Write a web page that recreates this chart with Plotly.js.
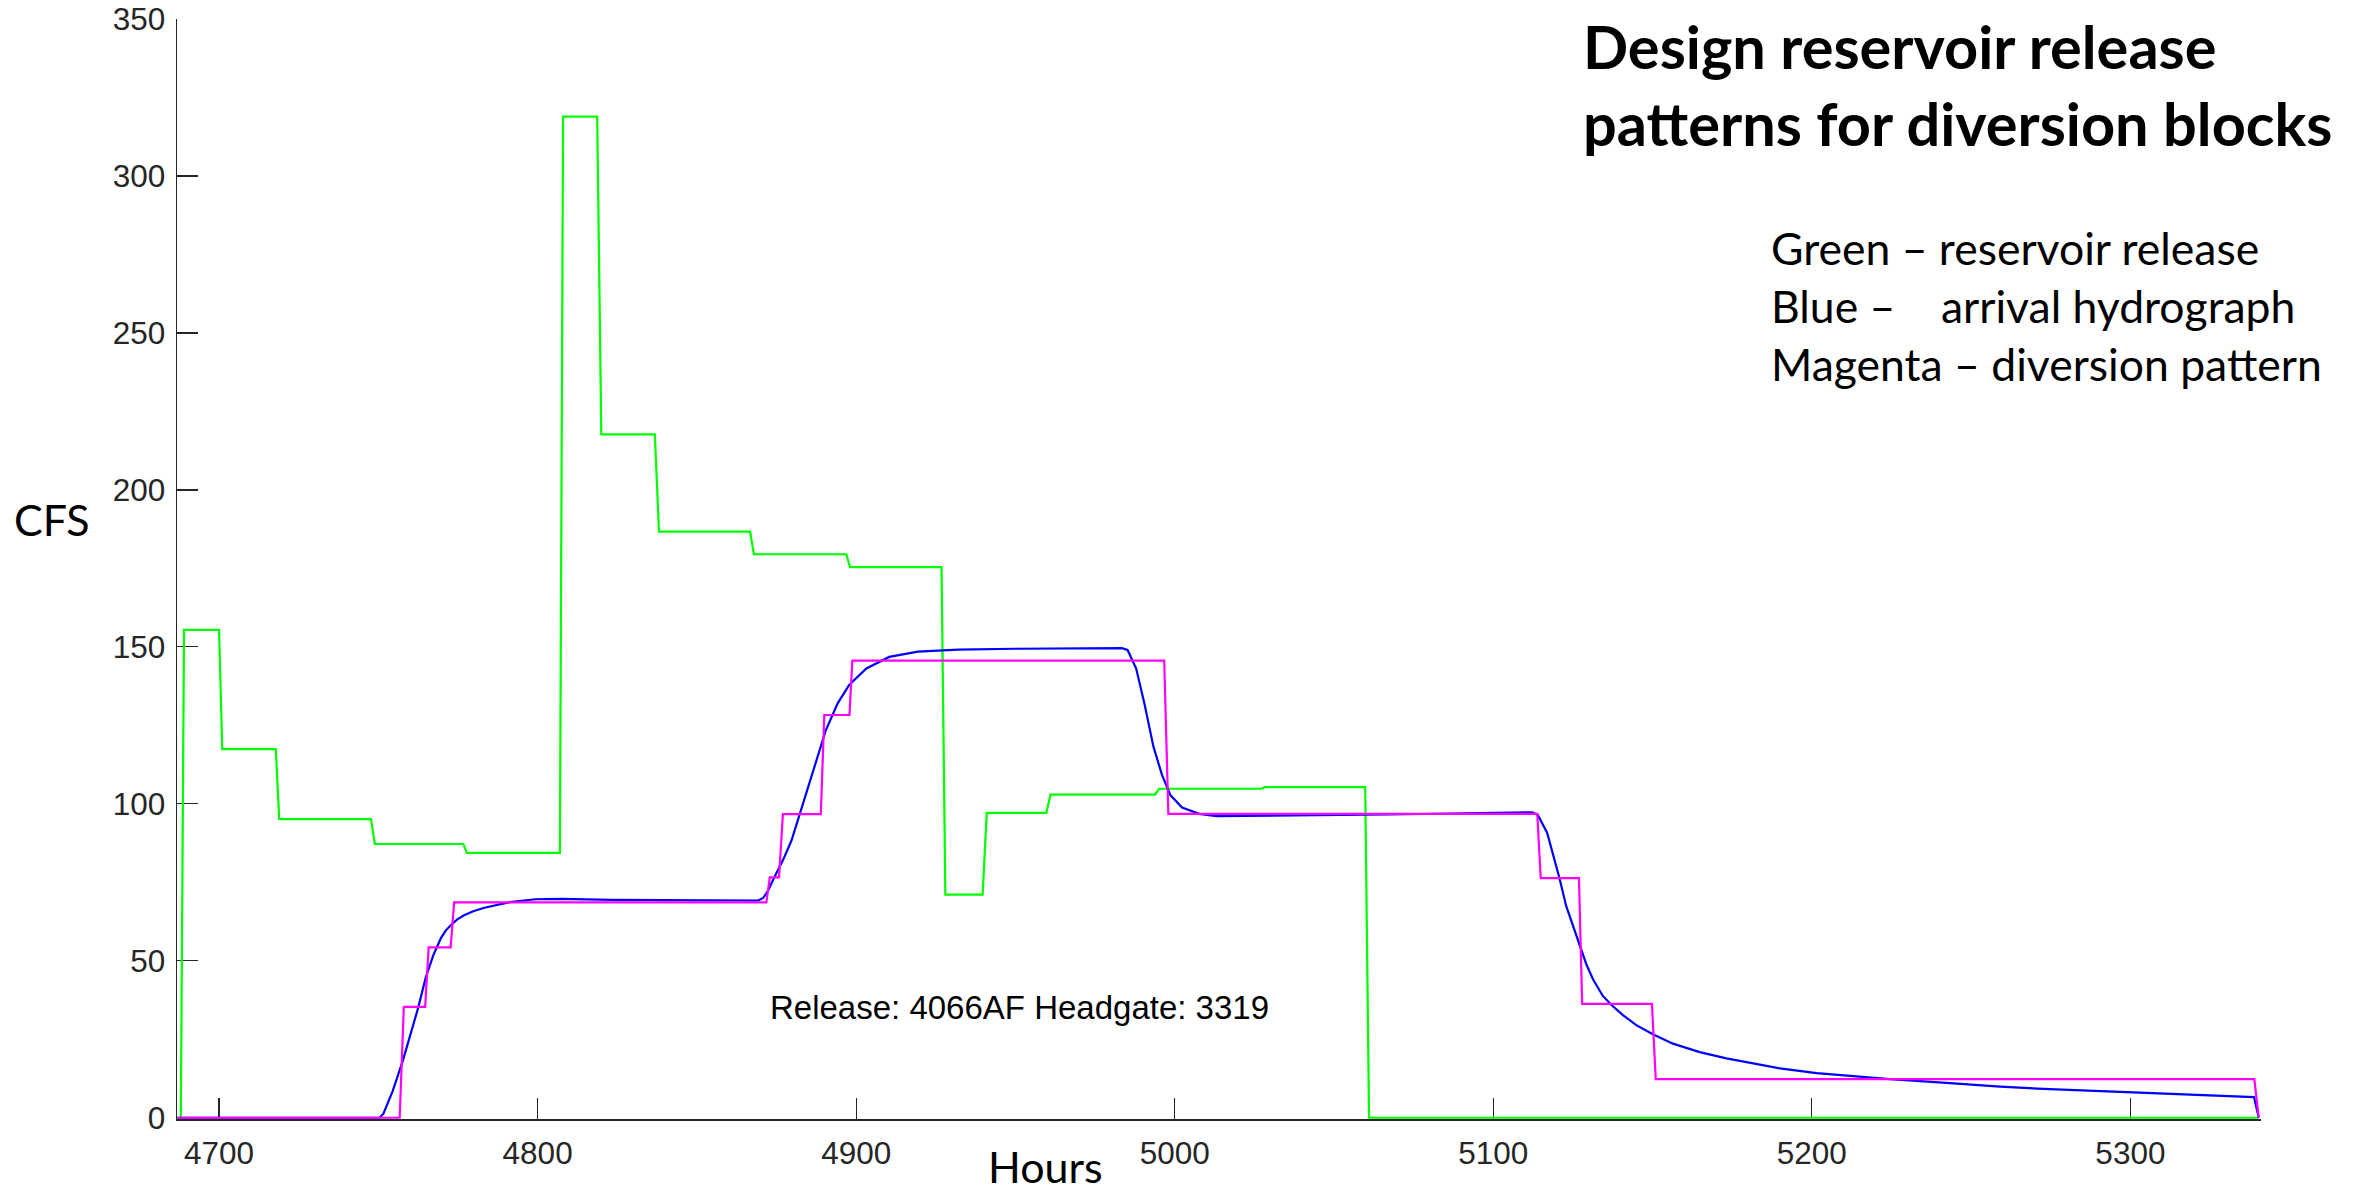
<!DOCTYPE html>
<html>
<head>
<meta charset="utf-8">
<script src="https://cdn.plot.ly/plotly-3.0.1.min.js"></script>
<style>
  html, body { margin: 0; padding: 0; background: #ffffff; }
  #chart { width: 2364px; height: 1193px; }
</style>
</head>
<body>
<div id="chart"></div>
<script>
// Reservoir release (green), arrival hydrograph at the headgate (blue)
// and designed diversion pattern (magenta), flow in CFS against hours.

const greenHours = [4687.0, 4688.0, 4689.0, 4700.0, 4701.0, 4717.8, 4718.9, 4747.7, 4748.9, 4776.7,
  4777.8, 4807.0, 4808.0, 4818.7, 4820.0, 4836.8, 4838.1, 4866.7, 4867.9, 4896.9,
  4898.1, 4926.8, 4928.0, 4939.7, 4941.0, 4959.7, 4961.0, 4993.8, 4995.1, 5027.2,
  5028.3, 5059.8, 5061.0, 5340.3];
const greenCfs = [0, 0, 155.4, 155.4, 117.4, 117.4, 95.1, 95.1, 87.2, 87.2,
  84.4, 84.4, 318.9, 318.9, 217.7, 217.7, 186.7, 186.7, 179.5, 179.5,
  175.4, 175.4, 71.1, 71.1, 97.1, 97.1, 102.9, 102.9, 104.8, 104.8,
  105.3, 105.3, 0, 0];

const blueHours = [4687.0, 4750.4, 4751.6, 4754.5, 4757.7, 4760.1, 4762.5, 4764.9, 4767.3, 4769.7,
  4771.2, 4772.9, 4774.8, 4776.9, 4779.8, 4783.3, 4791.3, 4799.3, 4807.3, 4823.3,
  4839.4, 4869.3, 4870.8, 4872.5, 4874.4, 4877.0, 4879.7, 4883.3, 4886.9, 4890.5,
  4894.2, 4897.8, 4903.2, 4910.4, 4919.4, 4932.0, 4950.0, 4968.0, 4983.4, 4985.2,
  4987.9, 4990.6, 4993.3, 4996.0, 4998.7, 5002.3, 5007.7, 5013.1, 5031.1, 5067.2,
  5112.3, 5114.0, 5116.9, 5119.3, 5120.8, 5122.9, 5125.0, 5127.1, 5129.2, 5131.3,
  5134.4, 5137.1, 5140.7, 5144.9, 5150.1, 5156.4, 5164.8, 5173.2, 5181.5, 5190.0,
  5201.5, 5212.0, 5224.5, 5243.4, 5259.1, 5274.7, 5290.4, 5338.8, 5340.3];
const blueCfs = [0, 0, 1.3, 8.5, 18.2, 26.6, 35.0, 44.7, 51.9, 57.3,
  59.7, 61.5, 63.2, 64.5, 65.8, 66.9, 68.7, 69.6, 69.7, 69.4,
  69.3, 69.2, 70.0, 72.6, 76.8, 82.0, 88.3, 100.1, 111.8, 123.5,
  132.0, 137.9, 143.1, 146.8, 148.5, 149.1, 149.4, 149.4, 149.6, 149.0,
  143.1, 131.4, 118.3, 109.2, 102.7, 98.8, 96.8, 96.1, 96.2, 96.6,
  97.3, 96.4, 90.8, 82.3, 76.2, 67.4, 61.1, 54.5, 48.9, 44.1,
  38.8, 35.9, 32.7, 29.5, 26.6, 23.6, 20.9, 18.9, 17.2, 15.7,
  14.2, 13.3, 12.3, 11.0, 9.9, 9.1, 8.5, 6.6, 0];

const magentaHours = [4687.0, 4756.7, 4758.0, 4764.7, 4765.8, 4772.7, 4773.8, 4871.8, 4872.9, 4875.8,
  4877.0, 4888.9, 4890.0, 4897.9, 4898.8, 4996.7, 4998.0, 5113.8, 5114.9, 5126.9,
  5127.9, 5149.8, 5151.0, 5338.9, 5340.3];
const magentaCfs = [0, 0, 35.3, 35.3, 54.3, 54.3, 68.6, 68.6, 76.6, 76.6,
  96.7, 96.7, 128.3, 128.3, 145.6, 145.6, 96.8, 96.8, 76.3, 76.3,
  36.3, 36.3, 12.3, 12.3, 0];

const xTicks = [4700, 4800, 4900, 5000, 5100, 5200, 5300];
const yTicks = [0, 50, 100, 150, 200, 250, 300, 350];

const releaseLabel = 'Release: 4066AF Headgate: 3319';
const legendLines = [
  'Green \u2013 reservoir release',
  'Blue \u2013\u00a0\u00a0\u00a0\u00a0arrival hydrograph',
  'Magenta \u2013 diversion pattern'
];

// Page geometry (pixels)
const W = 2364, H = 1193;
const M = { l: 177, r: 103, t: 19, b: 74 };
const plotW = W - M.l - M.r, plotH = H - M.t - M.b;
const px = X => (X - M.l) / plotW;          // page x -> paper x
const py = Y => (H - M.b - Y) / plotH;      // page y -> paper y

const axisColor = '#262626';
const tickFont = { family: 'Liberation Sans, Arial, sans-serif', size: 31.5, color: axisColor };
const textFont = { family: 'Lato, sans-serif', size: 43, color: '#000000' };
const legendFont = { family: 'Lato, sans-serif', size: 44.5, color: '#000000' };

const lineTrace = (x, y, color) => ({
  type: 'scatter', mode: 'lines', x: x, y: y,
  line: { color: color, width: 2.2 },
  cliponaxis: false, hoverinfo: 'skip', showlegend: false
});

const data = [
  lineTrace(greenHours, greenCfs, '#00ff00'),
  lineTrace(blueHours, blueCfs, '#0000ff'),
  lineTrace(magentaHours, magentaCfs, '#ff00ff')
];

const annotations = [
  { xref: 'x', yref: 'y', x: 4872.2, y: 35.0, xanchor: 'left', yanchor: 'middle',
    text: releaseLabel, showarrow: false,
    font: { family: 'Liberation Sans, Arial, sans-serif', size: 33, color: '#000000' } },
  { xref: 'paper', yref: 'paper', x: px(12), y: py(519), xanchor: 'left', yanchor: 'middle',
    text: 'CFS', showarrow: false, font: textFont },
  { xref: 'paper', yref: 'paper', x: px(986), y: py(1166), xanchor: 'left', yanchor: 'middle',
    text: 'Hours', showarrow: false, font: textFont }
];
const legendMidY = [247, 306, 363];
legendLines.forEach((t, i) => {
  annotations.push({ xref: 'paper', yref: 'paper', x: px(1769), y: py(legendMidY[i]),
    xanchor: 'left', yanchor: 'middle', text: t, showarrow: false, font: legendFont });
});

const layout = {
  width: W, height: H,
  margin: M,
  paper_bgcolor: '#ffffff', plot_bgcolor: '#ffffff',
  showlegend: false,
  title: {
    text: 'Design reservoir release<br>patterns for diversion blocks',
    xref: 'container', yref: 'container',
    x: 1583 / W, xanchor: 'left',
    y: 1 - 69 / H, yanchor: 'top',
    font: { family: 'Lato, sans-serif', size: 59.5, weight: 700, color: '#000000' }
  },
  xaxis: {
    range: [4686.8, 5341.0], tickvals: xTicks, ticktext: xTicks.map(String),
    ticks: 'inside', ticklen: 21, tickwidth: 1.3, tickcolor: axisColor,
    showline: true, linecolor: axisColor, linewidth: 1.5, ticklabelstandoff: 6,
    layer: 'below traces',
    showgrid: false, zeroline: false, tickfont: tickFont, fixedrange: true
  },
  yaxis: {
    // a hair below zero so the zero-flow lines are not clipped by the plot edge
    range: [-0.4, 350], tickvals: yTicks, ticktext: yTicks.map(String),
    ticks: 'inside', ticklen: 21, tickwidth: 1.3, tickcolor: axisColor,
    showline: true, linecolor: axisColor, linewidth: 1.5, ticklabelstandoff: 4,
    layer: 'below traces',
    showgrid: false, zeroline: false, tickfont: tickFont, fixedrange: true
  },
  annotations: annotations
};

Plotly.newPlot('chart', data, layout, { displayModeBar: false, staticPlot: true });
</script>
</body>
</html>
